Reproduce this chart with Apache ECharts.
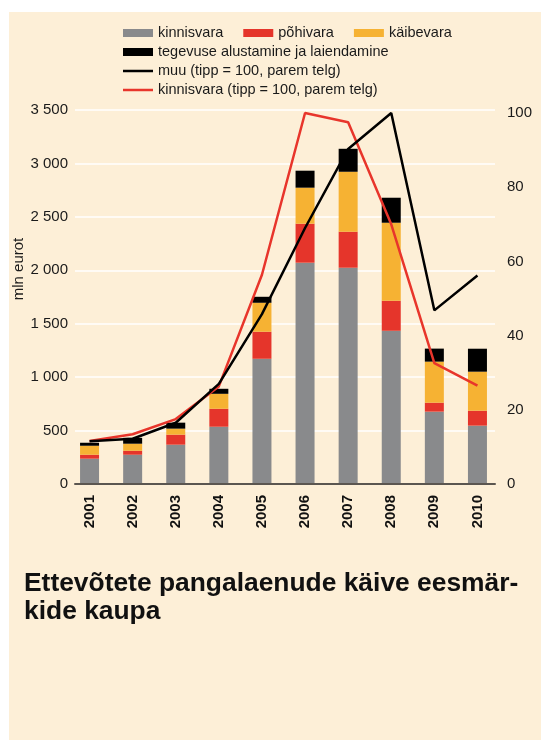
<!DOCTYPE html>
<html>
<head>
<meta charset="utf-8">
<script src="https://cdn.jsdelivr.net/npm/echarts@6/dist/echarts.min.js"></script>
<style>
  html, body { margin: 0; padding: 0; background: #fff; }
  #wrap { position: relative; width: 541px; height: 740px; }
  #bg { position: absolute; left: 9px; top: 12px; width: 532px; height: 728px; background: #fdefd7; }
  #chart { position: absolute; left: 0; top: 0; width: 541px; height: 740px; }
</style>
</head>
<body>
<div id="wrap"><div id="bg"></div><div id="chart"></div></div>
<script>
// aastad
const years = ['2001', '2002', '2003', '2004', '2005', '2006', '2007', '2008', '2009', '2010']
// laenude käive, mln eurot
const kinnisvara = [237, 274, 368, 536, 1172, 2071, 2024, 1434, 677, 546]
const pohivara = [37, 37, 94, 168, 253, 365, 337, 281, 84, 140]
const kaibevara = [84, 66, 56, 140, 271, 337, 561, 730, 384, 365]
const tegevuse = [28, 55, 56, 47, 56, 159, 215, 234, 122, 215]
// indeksid (tipp = 100)
const muuIndex = [11.5, 12.2, 16.5, 27, 45.8, 69, 90.3, 100, 46.8, 56.2]
const kinnisvaraIndex = [11.6, 13.4, 17.5, 26.3, 56.4, 100, 97.5, 70, 32.6, 26.5]

const font = "'Liberation Sans', Arial, Helvetica, sans-serif"
const textColor = '#1a1a1a'

const spaced = (v) => String(v).replace(/\B(?=(\d{3})+(?!\d))/g, ' ')

const barSeries = (name, arr, color) => ({
  name: name,
  type: 'bar',
  stack: 'laenud',
  xAxisIndex: 0,
  yAxisIndex: 0,
  barWidth: 19,
  color: color,
  data: arr,
})

const lineSeries = (name, arr, color) => ({
  name: name,
  type: 'line',
  xAxisIndex: 0,
  yAxisIndex: 1,
  symbol: 'none',
  showSymbol: false,
  color: color,
  lineStyle: { width: 2.5, color: color },
  data: arr,
})

const legendBase = {
  left: 123,
  padding: 0,
  itemWidth: 30,
  itemHeight: 8,
  itemGap: 20,
  icon: 'rect',
  itemStyle: { borderWidth: 0 },
  textStyle: { fontFamily: font, fontSize: 14.5, color: textColor, lineHeight: 16 },
}

const myChart = echarts.init(document.getElementById('chart'))
myChart.setOption({
  animation: false,
  textStyle: { fontFamily: font },
  title: {
    text: 'Ettevõtete pangalaenude käive eesmär-\nkide kaupa',
    left: 24,
    top: 570,
    padding: 0,
    textStyle: { fontFamily: font, fontSize: 26.4, fontWeight: 'bold', lineHeight: 28, color: '#111' },
  },
  legend: [
    { ...legendBase, top: 25, data: ['kinnisvara', 'põhivara', 'käibevara'] },
    { ...legendBase, top: 44, data: ['tegevuse alustamine ja laiendamine'] },
    { ...legendBase, top: 63, itemHeight: 2.5, data: ['muu (tipp = 100, parem telg)'] },
    { ...legendBase, top: 82, itemHeight: 2.5, data: ['kinnisvara (tipp = 100, parem telg)'] },
  ],
  graphic: [{
    type: 'text',
    x: 19,
    y: 269,
    rotation: Math.PI / 2,
    style: {
      text: 'mln eurot',
      font: '15px ' + font,
      fill: textColor,
      align: 'center',
      verticalAlign: 'middle',
    },
  }],
  // grid 0: bars and lines, grid 1: only gridlines, baseline and left labels
  grid: [
    { left: 68, right: 42, top: 110, bottom: 256 },
    { left: 75, right: 46, top: 110, bottom: 256 },
  ],
  xAxis: [
    {
      type: 'category',
      gridIndex: 0,
      data: years,
      axisLine: { show: false },
      axisTick: { show: false },
      axisLabel: {
        rotate: 90,
        margin: 11,
        fontSize: 15,
        fontWeight: 'bold',
        color: '#111',
      },
    },
    {
      type: 'value',
      gridIndex: 1,
      min: 0,
      max: 1,
      z: 3,
      splitLine: { show: false },
      axisTick: { show: false },
      axisLabel: { show: false },
      axisLine: { show: true, onZero: false, lineStyle: { color: '#5b5650', width: 2 } },
    },
  ],
  yAxis: [
    {
      type: 'value',
      gridIndex: 0,
      min: 0,
      max: 3500,
      interval: 500,
      show: false,
    },
    {
      type: 'value',
      gridIndex: 0,
      position: 'right',
      min: 0,
      max: 100.8,
      interval: 20,
      axisLine: { show: false },
      axisTick: { show: false },
      splitLine: { show: false },
      axisLabel: {
        fontSize: 15,
        color: textColor,
        margin: 8,
        formatter: (v) => (v % 20 === 0 ? String(v) : ''),
      },
    },
    {
      type: 'value',
      gridIndex: 1,
      min: 0,
      max: 3500,
      interval: 500,
      axisLine: { show: false },
      axisTick: { show: false },
      splitLine: { show: true, lineStyle: { color: '#ffffff', width: 1.5 } },
      axisLabel: { fontSize: 15, color: textColor, margin: 7, formatter: spaced },
    },
  ],
  series: [
    barSeries('kinnisvara', kinnisvara, '#898a8c'),
    barSeries('põhivara', pohivara, '#e5352b'),
    barSeries('käibevara', kaibevara, '#f6b233'),
    barSeries('tegevuse alustamine ja laiendamine', tegevuse, '#000000'),
    lineSeries('kinnisvara (tipp = 100, parem telg)', kinnisvaraIndex, '#e8352b'),
    lineSeries('muu (tipp = 100, parem telg)', muuIndex, '#000000'),
  ],
})
</script>
</body>
</html>
